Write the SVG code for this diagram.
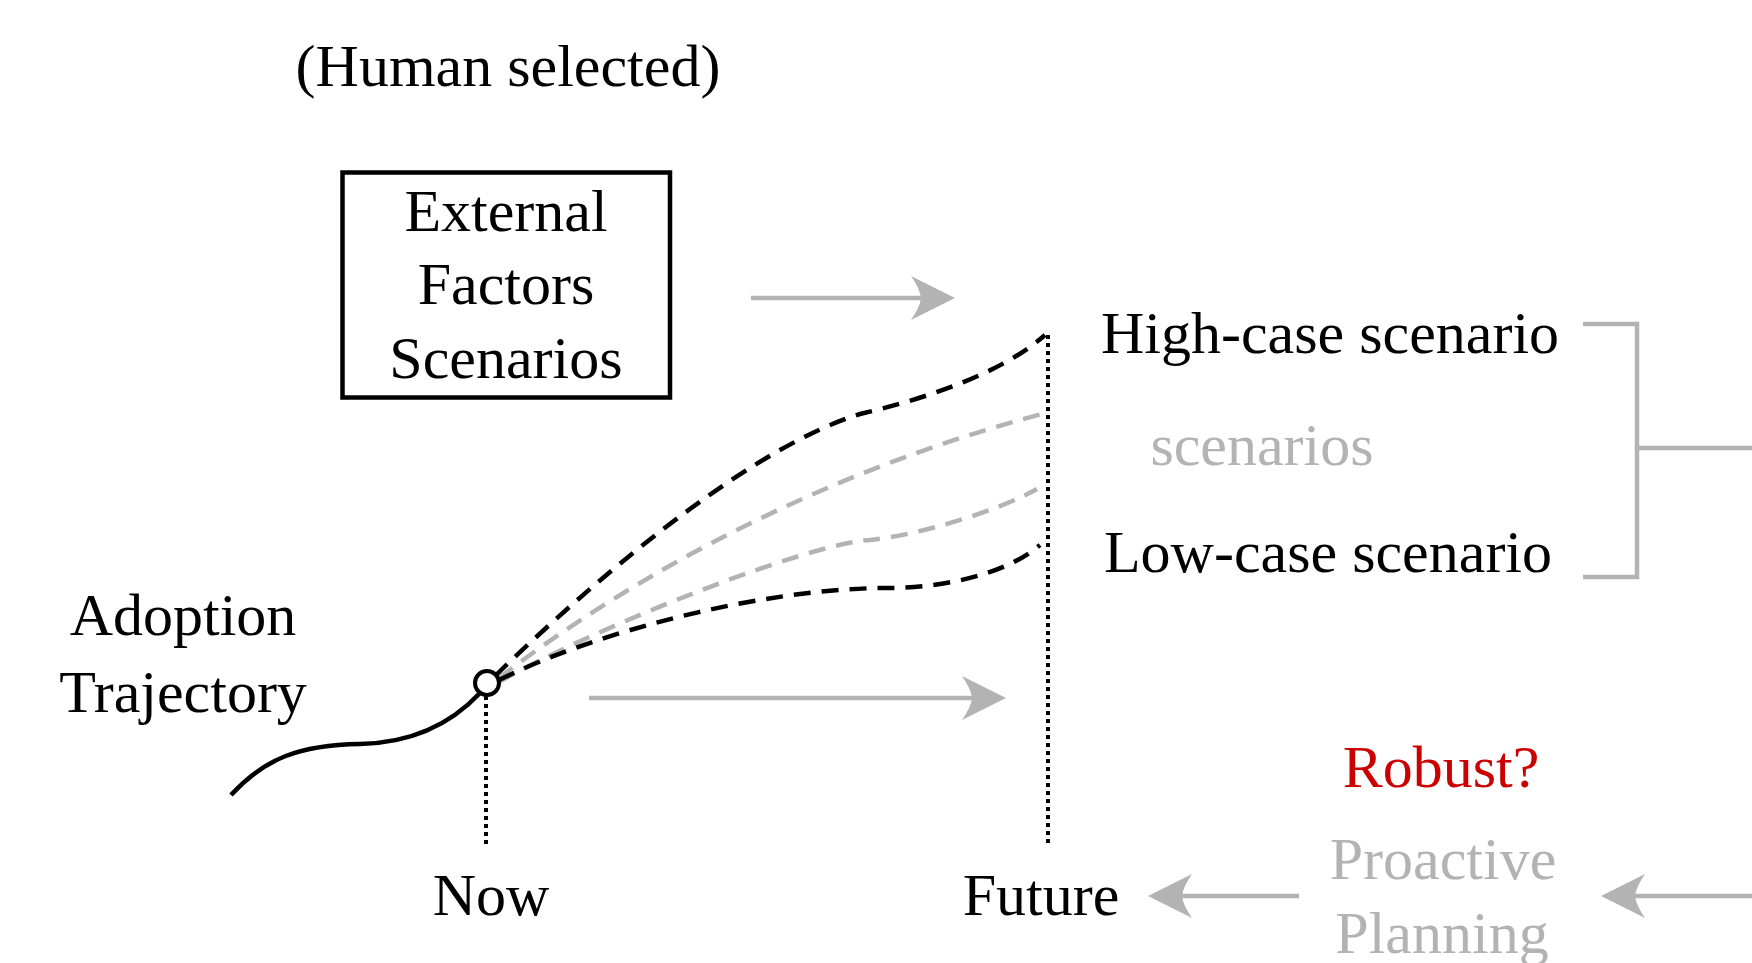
<svg xmlns="http://www.w3.org/2000/svg" width="1752" height="963" viewBox="0 0 1752 963">
  <style>
    text { font-family: "Liberation Serif", "Times New Roman", serif; font-size: 60px; text-anchor: middle; fill: #000; }
    .gtxt { fill: #b3b3b3; }
    .red { fill: #cc0000; }
    .arrow { stroke: #b3b3b3; stroke-width: 4.5; fill: none; marker-end: url(#head); }
    .bracket { stroke: #b3b3b3; stroke-width: 4.5; fill: none; }
    .dashK { stroke: #000; stroke-width: 4.5; fill: none; stroke-dasharray: 17 11; }
    .dashG { stroke: #b3b3b3; stroke-width: 4.5; fill: none; stroke-dasharray: 17 11; }
    .dot { stroke: #000; stroke-width: 4; fill: none; stroke-dasharray: 4 4; }
    .solid { stroke: #000; stroke-width: 4.5; fill: none; }
  </style>
  <defs>
    <marker id="head" markerUnits="userSpaceOnUse" markerWidth="50" markerHeight="50" viewBox="0 -25 50 50" refX="14" refY="0" orient="auto">
      <path d="M44,0 L0,-22 Q9,-9 10,0 Q9,9 0,22 Z" fill="#b3b3b3"/>
    </marker>
  </defs>
  <rect width="1752" height="963" fill="#fff"/>

  <g id="human-selected">
    <text x="508" y="86">(Human selected)</text>
  </g>

  <g id="external-factors">
    <rect x="342.5" y="172.5" width="327.5" height="225" fill="none" stroke="#000" stroke-width="4.5"/>
    <text x="506" y="231">External</text>
    <text x="506" y="304">Factors</text>
    <text x="506" y="378">Scenarios</text>
  </g>

  <g id="adoption-trajectory">
    <text x="183" y="635">Adoption</text>
    <text x="183" y="712">Trajectory</text>
  </g>

  <g id="now-label">
    <text x="491" y="915">Now</text>
  </g>
  <g id="future-label">
    <text x="1041" y="915">Future</text>
  </g>

  <g id="high-case">
    <text x="1330" y="353">High-case scenario</text>
  </g>
  <g id="scenarios-label">
    <text class="gtxt" x="1262" y="465">scenarios</text>
  </g>
  <g id="low-case">
    <text x="1328" y="572">Low-case scenario</text>
  </g>

  <g id="robust">
    <text class="red" x="1441" y="787">Robust?</text>
  </g>
  <g id="proactive-planning">
    <text class="gtxt" x="1443" y="879">Proactive</text>
    <text class="gtxt" x="1442" y="953">Planning</text>
  </g>

  <g id="trajectory">
    <path class="dot" d="M486,696 V846"/>
    <path class="dot" d="M1048,335 V846"/>
    <path class="solid" d="M231,795 C265,758 300,745 360,744 C410,743 450,725 480,693"/>
    <path class="dashG" d="M499,678 C640,570 830,470 1042,414"/>
    <path class="dashG" d="M499,682 C600,625 810,543 870,540 C920,535 1000,510 1037,489"/>
    <path class="dashK" d="M495,676 C620,555 760,445 860,414 C920,400 1000,375 1045,335"/>
    <path class="dashK" d="M499,680 C600,630 760,590 880,588 C940,589 1005,575 1040,545"/>
    <circle id="now-point" cx="487" cy="683" r="12" fill="#fff" stroke="#000" stroke-width="4"/>
  </g>

  <g id="connectors">
    <line class="arrow" x1="751" y1="298" x2="925" y2="298"/>
    <line class="arrow" x1="589" y1="698" x2="976" y2="698"/>
    <line class="arrow" x1="1299" y1="896" x2="1178" y2="896"/>
    <line class="arrow" x1="1760" y1="896" x2="1631" y2="896"/>
    <path class="bracket" d="M1583,324 H1637 V577 H1583 M1637,448 H1760"/>
  </g>
</svg>
